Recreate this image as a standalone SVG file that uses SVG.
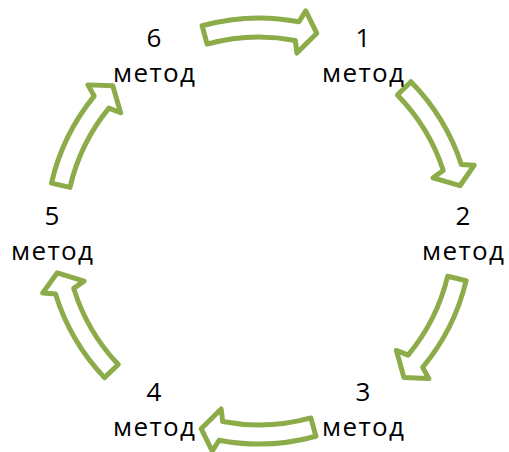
<svg xmlns="http://www.w3.org/2000/svg" xmlns:xlink="http://www.w3.org/1999/xlink" width="509" height="452" viewBox="0 0 509 452">
  <style>
    .arrow { fill: #ffffff; stroke: #8cac49; stroke-width: 5; stroke-linejoin: round; }
    .lbl { font-family: "Open Sans", "Liberation Sans", sans-serif; font-size: 26px; fill: #000000; text-anchor: middle; }
  </style>
  <defs>
    <path id="arr" class="arrow" d="M -56.92,-205.25 A 213 213 0 0 1 39.91,-209.23 L 46.78,-220.08 L 57.82,-197.72 L 37.84,-178.02 L 36.35,-190.56 A 194 194 0 0 0 -51.84,-186.94 Z"/>
  </defs>
  <rect width="509" height="452" fill="#ffffff"/>
  <g id="connectors">
    <use href="#arr" xlink:href="#arr" transform="translate(259,231) rotate(0)"/>
    <use href="#arr" xlink:href="#arr" transform="translate(259,231) rotate(61)"/>
    <use href="#arr" xlink:href="#arr" transform="translate(259,231) rotate(119)"/>
    <use href="#arr" xlink:href="#arr" transform="translate(259,231) rotate(180)"/>
    <use href="#arr" xlink:href="#arr" transform="translate(259,231) rotate(242)"/>
    <use href="#arr" xlink:href="#arr" transform="translate(259,231) rotate(298.5)"/>
  </g>
  <g id="node1">
    <text class="lbl" x="363" y="47">1</text>
    <text class="lbl" x="363" y="82" textLength="82" lengthAdjust="spacing">метод</text>
  </g>
  <g id="node2">
    <text class="lbl" x="463" y="225">2</text>
    <text class="lbl" x="463" y="260" textLength="82" lengthAdjust="spacing">метод</text>
  </g>
  <g id="node3">
    <text class="lbl" x="363" y="401">3</text>
    <text class="lbl" x="363" y="436" textLength="82" lengthAdjust="spacing">метод</text>
  </g>
  <g id="node4">
    <text class="lbl" x="154" y="401">4</text>
    <text class="lbl" x="154" y="436" textLength="82" lengthAdjust="spacing">метод</text>
  </g>
  <g id="node5">
    <text class="lbl" x="52" y="225">5</text>
    <text class="lbl" x="52" y="260" textLength="82" lengthAdjust="spacing">метод</text>
  </g>
  <g id="node6">
    <text class="lbl" x="154" y="47">6</text>
    <text class="lbl" x="154" y="82" textLength="82" lengthAdjust="spacing">метод</text>
  </g>
</svg>
